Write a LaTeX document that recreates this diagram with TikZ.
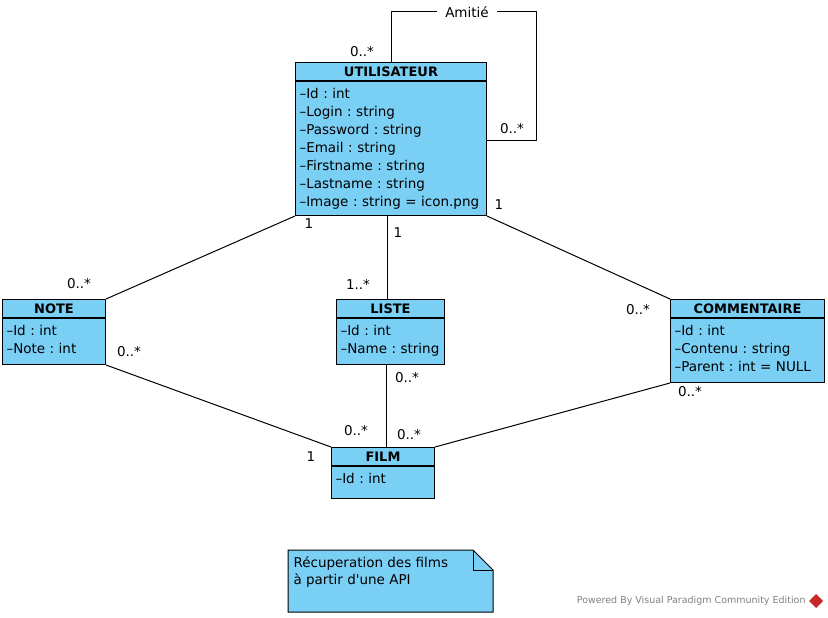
\documentclass[tikz,border=0pt]{standalone}
\usepackage{fontspec}
\setmainfont{DejaVu Sans}
\usetikzlibrary{positioning}
\definecolor{classcol}{RGB}{122,207,245}
\definecolor{vpred}{RGB}{200,40,40}
\frenchspacing

\tikzset{
  classhead/.style={draw, fill=classcol, font=\fontsize{13}{18}\selectfont\bfseries, inner sep=0pt, minimum height=18, anchor=north west},
  classbody/.style={draw, fill=classcol, align=left, inner xsep=4, inner ysep=0pt, text height=17, text depth=#1},
  mult/.style={inner sep=1pt},
}

\begin{document}
\begin{tikzpicture}[x=1pt, y=-1pt, line width=1pt, every node/.style={font=\fontsize{13.5}{18}\selectfont}]
    \useasboundingbox (0,0) rectangle (828,618);

    % classes
    \node[classhead, minimum width=191] (uhead) at (295,62) {UTILISATEUR};
    \node[classbody=117, text width=183, below=0pt of uhead] (ubody)
        {–Id : int\\–Login : string\\–Password : string\\–Email : string\\–Firstname : string\\–Lastname : string\\–Image : string = icon.png};

    \node[classhead, minimum width=103] (nhead) at (2,299) {NOTE};
    \node[classbody=29, text width=95, below=0pt of nhead] (nbody)
        {–Id : int\\–Note : int};

    \node[classhead, minimum width=108] (lhead) at (336,299) {LISTE};
    \node[classbody=29, text width=100, below=0pt of lhead] (lbody)
        {–Id : int\\–Name~:~string};

    \node[classhead, minimum width=154] (chead) at (670,299) {COMMENTAIRE};
    \node[classbody=47, text width=146, below=0pt of chead] (cbody)
        {–Id : int\\–Contenu : string\\–Parent : int = NULL};

    \node[classhead, minimum width=103] (fhead) at (331,447) {FILM};
    \node[classbody=15, text width=95, below=0pt of fhead] (fbody)
        {–Id : int};

    % associations
    \node[fill=white, inner xsep=8, inner ysep=2] (amitie) at (467,12) {Amitié};
    \coordinate (loopne) at (536,12);
    \draw (uhead.north) |- (amitie.west);
    \draw (amitie.east) -- (loopne) |- ([yshift=8]ubody.east);

    \draw (ubody.south west) -- (nhead.north east);
    \draw ([xshift=-4]ubody.south) -- ([xshift=-4]ubody.south |- lhead.north);
    \draw (ubody.south east) -- (chead.north west);
    \draw (nbody.south east) -- (fhead.north west);
    \draw ([xshift=-4]lbody.south) -- ([xshift=-4]lbody.south |- fhead.north);
    \draw (cbody.south west) -- (fhead.north east);

    % multiplicities
    \node[mult] (m1) at (362,52) {0..*};
    \node[mult] (m2) at (512,129) {0..*};
    \node[mult] (m3) at (309,224) {1};
    \node[mult] (m4) at (79,284) {0..*};
    \node[mult] (m5) at (398,233) {1};
    \node[mult] (m6) at (358,284) {1..*};
    \node[mult] (m7) at (499,205) {1};
    \node[mult] (m8) at (638,310) {0..*};
    \node[mult] (m9) at (129,352) {0..*};
    \node[mult] (m10) at (311,457) {1};
    \node[mult] (m11) at (407,378) {0..*};
    \node[mult] (m12) at (356,431) {0..*};
    \node[mult] (m13) at (690,392) {0..*};
    \node[mult] (m14) at (409,435) {0..*};

    % note
    \draw[fill=classcol] (288,550) -- (473,550) -- (493,570) -- (493,612) -- (288,612) -- cycle;
    \draw (473,550) -- (473,570) -- (493,570);
    \node[anchor=north west, align=left, inner sep=0pt, font=\fontsize{13.5}{17}\selectfont] (apinote) at (293,556)
        {Récuperation des films\\à partir d\textquotesingle une API};

    % footer
    \node[anchor=east, inner sep=0pt, text=gray, font=\fontsize{9.5}{11}\selectfont] (vp) at (806,601)
        {Powered By Visual Paradigm Community Edition};
    \fill[vpred] (816,594) -- (823,601) -- (816,608) -- (809,601) -- cycle;

\end{tikzpicture}
\end{document}
